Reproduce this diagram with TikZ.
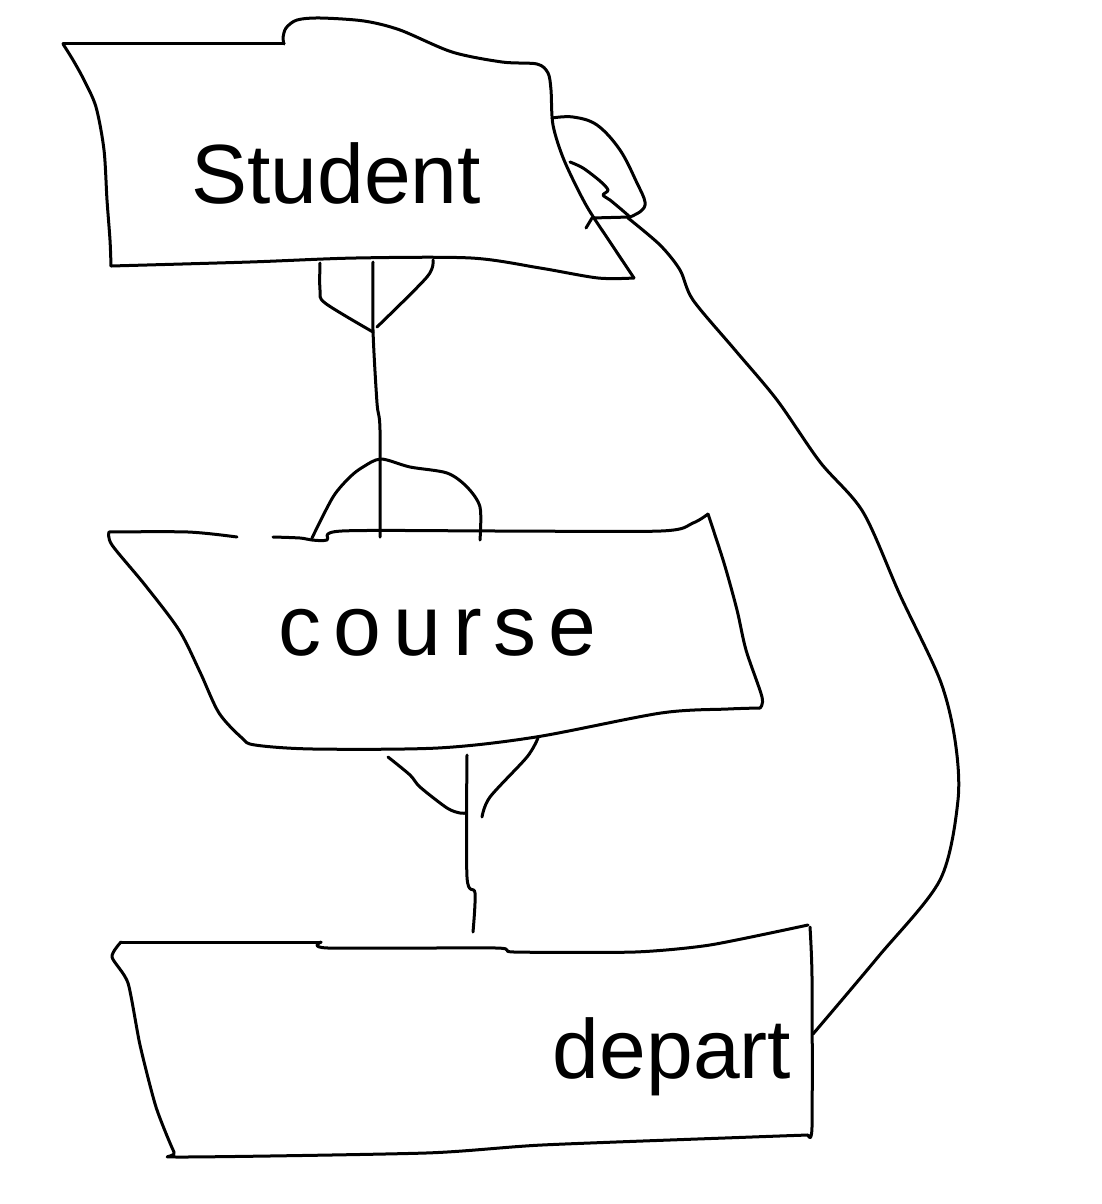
\documentclass[tikz,border=0pt]{standalone}
\usepackage{fontspec}
\setmainfont{Liberation Sans}
\begin{document}
\begin{tikzpicture}[x=0.5pt,y=-0.5pt,
  hand/.style={line width=1.5pt,line cap=round,line join=round,black},
  label/.style={font=\fontsize{42}{42}\selectfont,inner sep=0pt,anchor=base}]
\fill[white] (0,0) rectangle (1102,1204);
\useasboundingbox (0,0) rectangle (1102,1204);

% ---- entity texts
\node[label] (student) at (336,203) {Student};
\node[label,anchor=base west,font=\fontsize{43}{43}\selectfont\addfontfeature{LetterSpace=14}] (course) at (278,655) {course};
\node[label] (depart) at (672,1078) {depart};

% ---- connector end points
\coordinate (sBot) at (373,262);
\coordinate (cTop) at (380,537);
\coordinate (cBot) at (467,755);
\coordinate (dTop) at (473,932);
\coordinate (dRight) at (813,1034);
\coordinate (sRight) at (628,218);

% ---- Student box
\draw[hand] plot[smooth,tension=.5] coordinates {(63,44) (73,60) (84,80) (96,107) (104,150) (107,200) (110,240) (111,266)};
\draw[hand] plot[smooth,tension=.5] coordinates {(111,266) (250,262) (356,258) (471,258) (540,268) (598,278) (634,278)};
\draw[hand] plot[smooth,tension=.5] coordinates {(634,278) (610,242) (586,205) (564,160) (553,125) (551,90) (548,73) (537,64) (502,62) (452,52) (400,30) (364,21) (320,18) (297,20) (286,28) (283,38) (284,44)};
\draw[hand] (284,44) -- (63,44);

% ---- Course box
\draw[hand] plot[smooth,tension=.5] coordinates {(109,532) (188,532) (237,537)};
\draw[hand] plot[smooth,tension=.5] coordinates {(273,537) (300,538) (312,540) (327,540) (342,531) (500,531) (661,531) (693,523) (708,514)};
\draw[hand] plot[smooth,tension=.5] coordinates {(708,514) (724,563) (737,610) (746,650) (762,697) (760,708)};
\draw[hand] plot[smooth,tension=.5] coordinates {(760,708) (728,709) (661,713) (536,737) (438,748) (313,749) (255,745) (242,738) (219,713) (200,672) (179,630) (145,585) (112,545) (109,532)};

% ---- Depart box
\draw[hand] plot[smooth,tension=.4] coordinates {(121,942) (321,942)};
\draw[hand] plot[smooth,tension=.4] coordinates {(321,942) (328,948) (496,948) (514,952) (635,952) (710,945) (808,925)};
\draw[hand] plot[smooth,tension=.4] coordinates {(810,927) (812,977) (812,1127) (808,1135)};
\draw[hand] plot[smooth,tension=.4] coordinates {(808,1135) (752,1137) (542,1145) (426,1153) (181,1157) (174,1152) (156,1107) (140,1045) (128,983) (112,957) (121,942)};

% ---- Student -- Course (crow's feet both ends)
\draw[hand] plot[smooth,tension=.5] coordinates {(sBot) (373,330) (377,403) (380,430) (cTop)};
\draw[hand] plot[smooth,tension=.5] coordinates {(320,263) (320,290) (325,303) (373,332)};
\draw[hand] plot[smooth,tension=.5] coordinates {(433,260) (427,277) (377,327)};
\draw[hand] plot[smooth,tension=.5] coordinates {(312,538) (333,497) (350,477) (363,467) (381,459) (410,467) (447,473) (467,487) (480,507) (480,540)};

% ---- Course -- Depart
\draw[hand] plot[smooth,tension=.5] coordinates {(cBot) (467,877) (475,893) (dTop)};
\draw[hand] plot[smooth,tension=.5] coordinates {(388,757) (410,775) (420,787) (447,808) (460,813) (466,813)};
\draw[hand] plot[smooth,tension=.5] coordinates {(538,738) (527,757) (490,797) (482,817)};

% ---- Depart -- Student
\draw[hand] plot[smooth,tension=.5] coordinates {(dRight) (878,957) (940,880) (958,800) (955,740) (940,680) (900,595) (863,512) (820,462) (777,400) (735,350) (693,300) (680,270) (660,245) (sRight)};
\draw[hand] plot[smooth,tension=.6] coordinates {(552,118) (573,117) (597,125) (620,150) (637,183) (645,202) (641,211) (sRight)};
\draw[hand] plot[smooth,tension=.5] coordinates {(570,162) (583,168) (600,181) (608,190) (603,195) (610,200) (622,210) (630,217)};
\draw[hand] (586,228) -- (592,218) -- (630,217);
\end{tikzpicture}
\end{document}
